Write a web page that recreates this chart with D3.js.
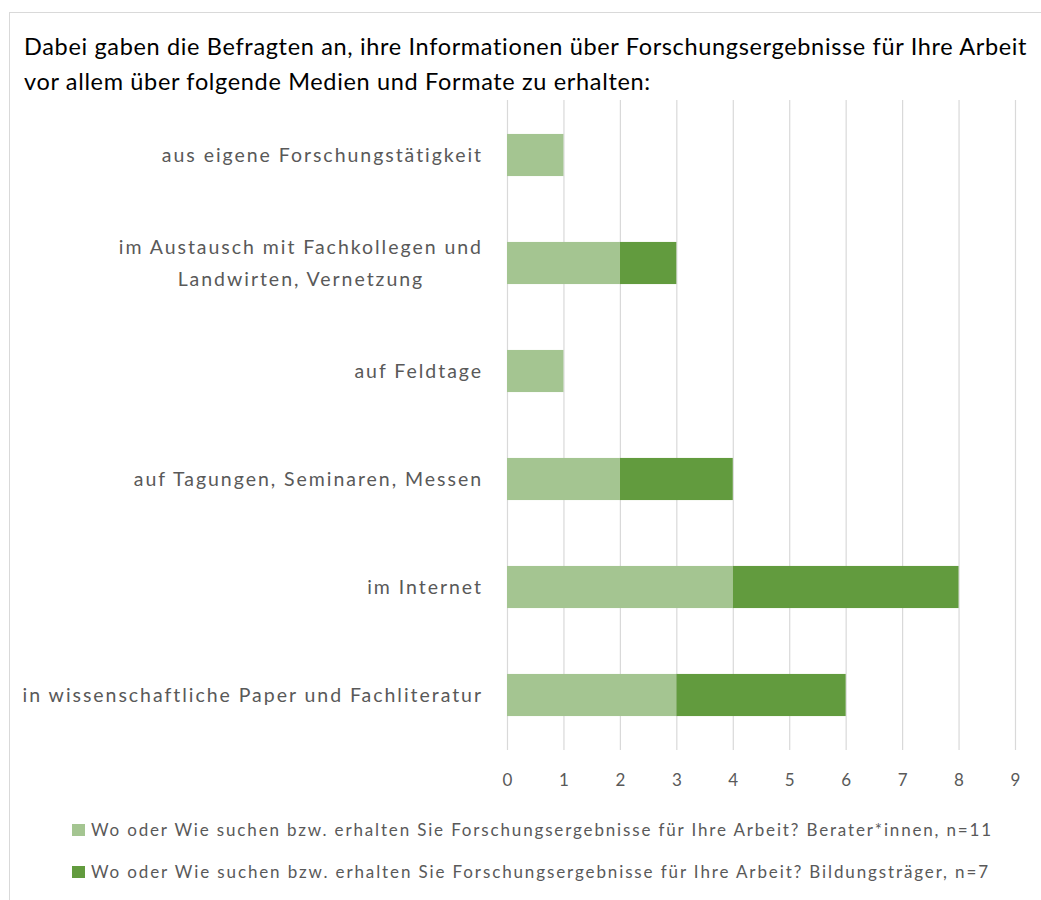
<!DOCTYPE html>
<html><head><meta charset="utf-8">
<script src="https://cdn.jsdelivr.net/npm/d3@7"></script>
<style>body{margin:0;background:#fff}svg{display:block;font-family:Lato,"Open Sans",sans-serif}</style>
</head><body>
<svg id="chart" width="1041" height="900"></svg>
<script>
const titleLines = ["Dabei gaben die Befragten an, ihre Informationen über Forschungsergebnisse für Ihre Arbeit",
  "vor allem über folgende Medien und Formate zu erhalten:"];
const categories = [
  ["aus eigene Forschungstätigkeit"],
  ["im Austausch mit Fachkollegen und", "Landwirten, Vernetzung"],
  ["auf Feldtage"],
  ["auf Tagungen, Seminaren, Messen"],
  ["im Internet"],
  ["in wissenschaftliche Paper und Fachliteratur"]
];
const beraterValues = [1, 2, 1, 2, 4, 3];
const bildungValues = [0, 1, 0, 2, 4, 3];
const seriesNames = [
  "Wo oder Wie suchen bzw. erhalten Sie Forschungsergebnisse für Ihre Arbeit?  Berater*innen, n=11",
  "Wo oder Wie suchen bzw. erhalten Sie Forschungsergebnisse für Ihre Arbeit?  Bildungsträger, n=7"
];
const seriesColors = ["#a4c591", "#629b3e"];
const xTicks = [0,1,2,3,4,5,6,7,8,9];

const svg = d3.select("#chart");
svg.append("rect").attr("x", 9.5).attr("y", 12.5).attr("width", 1100).attr("height", 1000)
  .attr("fill", "none").attr("stroke", "#d9d9d9").attr("stroke-width", 1);

function spacingFor(sel, w) {
  const n = sel.node(); const len = n.getComputedTextLength();
  return (w - len) / Math.max(1, n.textContent.length - 1);
}

// title
const tt = svg.append("g");
const tTexts = titleLines.map((t, i) => tt.append("text").attr("x", 24).attr("y", 55 + i * 35)
  .attr("font-size", 23.5).attr("fill", "#000").text(t));
const tsp = spacingFor(tTexts[0], 1003);
tTexts.forEach(t => t.attr("letter-spacing", tsp.toFixed(3)));

const x = d3.scaleLinear().domain([0, 9]).range([507, 1015]);
const y = d3.scaleBand().domain(d3.range(categories.length)).range([101, 749])
  .paddingInner(0.61).paddingOuter(0.305);

svg.append("g").selectAll("line").data(xTicks).join("line")
  .attr("x1", d => x(d) + 0.5).attr("x2", d => x(d) + 0.5)
  .attr("y1", 100).attr("y2", 750)
  .attr("stroke", "#d9d9d9").attr("stroke-width", 1.2);

const xAxis = d3.axisBottom(x).tickValues(xTicks).tickSize(0).tickPadding(0);
const gx = svg.append("g").attr("transform", `translate(0,${774})`).call(xAxis);
gx.select(".domain").remove();
gx.selectAll("text").attr("font-size", 17).attr("fill", "#595959")
  .attr("font-family", "Lato, sans-serif").attr("dy", "0.71em");

const rows = categories.map((c, i) => ({i, vals: [beraterValues[i], bildungValues[i]]}));
const stacked = d3.stack().keys([0, 1]).value((d, k) => d.vals[k])(rows);
stacked.forEach((s, si) => {
  svg.append("g").selectAll("rect").data(s).join("rect")
    .attr("x", d => x(d[0])).attr("width", d => x(d[1]) - x(d[0]))
    .attr("y", (d, i) => y(i)).attr("height", y.bandwidth())
    .attr("fill", seriesColors[si]);
});

// category labels
const lg = svg.append("g");
const labFont = 19.5;
const probe = lg.append("text").attr("font-size", labFont).text(categories[5][0]);
const labSp = spacingFor(probe, 458);
probe.remove();
categories.forEach((lines, i) => {
  const cy = y(i) + y.bandwidth() / 2;
  const lh = 32;
  const ts = lines.map((l, j) => lg.append("text")
      .attr("y", cy + (j - (lines.length - 1) / 2) * lh)
      .attr("dy", "0.35em").attr("font-size", labFont).attr("fill", "#595959")
      .attr("letter-spacing", labSp.toFixed(3)).text(l));
  if (lines.length === 1) {
    ts[0].attr("x", 483).attr("text-anchor", "end");
  } else {
    const w = d3.max(ts, t => t.node().getComputedTextLength());
    ts.forEach(t => t.attr("x", 483 - w / 2).attr("text-anchor", "middle"));
  }
});

// legend
const leg = svg.append("g");
seriesNames.forEach((n, i) => {
  const yy = 830 + i * 42;
  leg.append("rect").attr("x", 72).attr("y", yy - 6).attr("width", 13).attr("height", 12)
    .attr("fill", seriesColors[i]);
  const t = leg.append("text").attr("x", 91).attr("y", yy).attr("dy", "0.35em")
    .attr("font-size", 17).attr("fill", "#595959").text(n);
  t.attr("letter-spacing", spacingFor(t, (i === 0 ? 993 : 990) - 91).toFixed(3));
});
</script>
</body></html>
